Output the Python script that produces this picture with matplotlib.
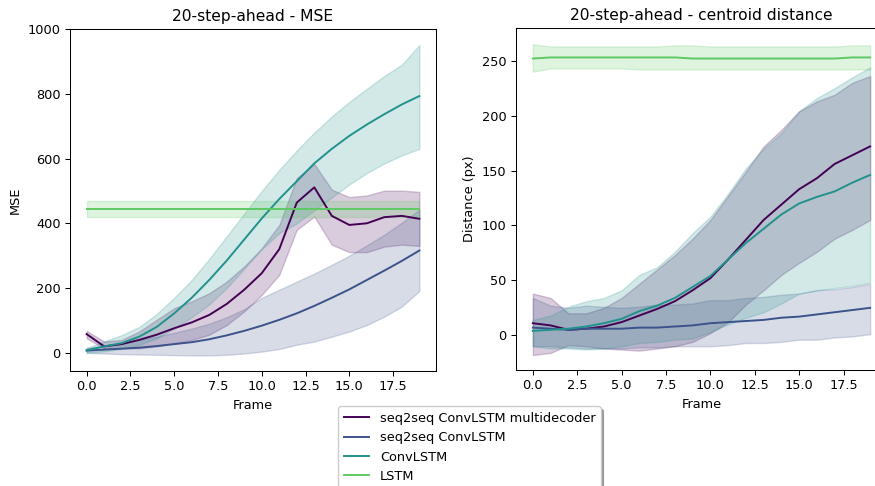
import numpy as np
import matplotlib
matplotlib.use('Agg')
import matplotlib.pyplot as plt

frames = np.arange(20)
names = ['seq2seq ConvLSTM multidecoder', 'seq2seq ConvLSTM', 'ConvLSTM', 'LSTM']
colors = ['#440154', '#3b528b', '#21918c', '#5ec962']

# MSE panel: mean, lower, upper
mse_multi = [58, 20, 27, 40, 56, 76, 94, 117, 151, 195, 246, 320, 464, 511, 423, 395, 400, 419, 423, 414]
mse_multi_lo = [45, 14, 14, 14, 20, 30, 40, 56, 86, 128, 179, 241, 380, 421, 334, 311, 311, 328, 334, 330]
mse_multi_hi = [68, 35, 40, 66, 102, 138, 159, 184, 220, 267, 323, 395, 540, 583, 504, 481, 486, 501, 501, 497]

mse_s2s = [7, 10, 13, 16, 21, 27, 33, 42, 54, 68, 84, 102, 122, 145, 170, 196, 225, 254, 284, 316]
mse_s2s_lo = [0, -2, -4, -5, -6, -7, -8, -8, -6, -2, 4, 12, 25, 35, 50, 66, 86, 112, 143, 191]
mse_s2s_hi = [15, 22, 30, 40, 50, 62, 75, 90, 110, 135, 170, 195, 220, 245, 272, 300, 332, 365, 402, 442]

mse_conv = [8, 20, 30, 50, 80, 122, 170, 225, 285, 350, 415, 475, 530, 585, 630, 670, 705, 737, 767, 793]
mse_conv_lo = [0, 5, 12, 25, 45, 75, 110, 150, 200, 260, 320, 370, 400, 440, 480, 520, 555, 585, 610, 630]
mse_conv_hi = [15, 35, 55, 80, 120, 170, 225, 290, 360, 430, 500, 565, 625, 680, 730, 775, 815, 855, 890, 950]

mse_lstm = [445] * 20
mse_lstm_lo = [420] * 20
mse_lstm_hi = [470] * 20

# centroid distance panel
cd_multi = [11, 9, 5, 6, 8, 12, 18, 24, 31, 41, 52, 69, 87, 105, 119, 133, 143, 156, 164, 172]
cd_multi_lo = [-18, -16, -9, -10, -12, -13, -14, -12, -10, -6, 2, 12, 28, 41, 55, 66, 76, 88, 96, 105]
cd_multi_hi = [38, 34, 20, 20, 25, 34, 47, 60, 73, 88, 105, 127, 149, 172, 187, 204, 213, 219, 230, 236]

cd_s2s = [7, 6, 5, 6, 6, 6, 7, 7, 8, 9, 11, 12, 13, 14, 16, 17, 19, 21, 23, 25]
cd_s2s_lo = [-10, -10, -11, -12, -12, -12, -11, -11, -10, -10, -10, -9, -7, -7, -6, -4, -4, -2, -1, 1]
cd_s2s_hi = [34, 27, 25, 27, 26, 25, 26, 28, 28, 29, 32, 32, 34, 35, 37, 38, 41, 42, 44, 47]

cd_conv = [4, 5, 6, 8, 11, 15, 22, 27, 34, 44, 54, 69, 84, 97, 110, 120, 126, 131, 139, 146]
cd_conv_lo = [-10, -12, -12, -13, -12, -10, -7, -6, -4, -3, 3, 10, 16, 21, 29, 38, 41, 43, 45, 48]
cd_conv_hi = [14, 18, 26, 31, 34, 41, 55, 62, 76, 93, 108, 129, 152, 170, 184, 204, 216, 225, 235, 244]

cd_lstm = [252, 253, 253, 253, 253, 253, 253, 253, 253, 252, 252, 252, 252, 252, 252, 252, 252, 252, 253, 253]
cd_lstm_lo = [240, 243, 243, 243, 243, 243, 242, 242, 242, 242, 242, 242, 242, 242, 242, 242, 242, 242, 242, 242]
cd_lstm_hi = [265, 263, 263, 263, 263, 263, 263, 263, 264, 264, 263, 263, 263, 263, 263, 263, 263, 263, 264, 264]

mse = [(mse_multi, mse_multi_lo, mse_multi_hi), (mse_s2s, mse_s2s_lo, mse_s2s_hi),
       (mse_conv, mse_conv_lo, mse_conv_hi), (mse_lstm, mse_lstm_lo, mse_lstm_hi)]
cd = [(cd_multi, cd_multi_lo, cd_multi_hi), (cd_s2s, cd_s2s_lo, cd_s2s_hi),
      (cd_conv, cd_conv_lo, cd_conv_hi), (cd_lstm, cd_lstm_lo, cd_lstm_hi)]

# reference looks like a slightly downscaled default render
s = 0.93
plt.rcParams['font.size'] = 10 * s
plt.rcParams['lines.linewidth'] = 1.5 * s
plt.rcParams['axes.linewidth'] = 0.8 * s
plt.rcParams['xtick.major.size'] = 3.5 * s
plt.rcParams['ytick.major.size'] = 3.5 * s
plt.rcParams['xtick.major.width'] = 0.8 * s
plt.rcParams['ytick.major.width'] = 0.8 * s

fig = plt.figure(figsize=(8.75, 4.86), dpi=100)
ax1 = fig.add_axes([70 / 875, 1 - 371 / 486, 366 / 875, 342 / 486])
ax2 = fig.add_axes([516 / 875, 1 - 370 / 486, 371 / 875, 342 / 486])

lines = []
for (m, lo, hi), c, n in zip(mse, colors, names):
    ln, = ax1.plot(frames, m, color=c, label=n)
    ax1.fill_between(frames, lo, hi, color=c, alpha=0.2)
    lines.append(ln)

for (m, lo, hi), c in zip(cd, colors):
    ax2.plot(frames, m, color=c)
    ax2.fill_between(frames, lo, hi, color=c, alpha=0.2)

ax1.set_title('20-step-ahead - MSE')
ax1.set_xlabel('Frame')
ax1.set_ylabel('MSE')
ax1.set_xlim(-0.95, 19.95)
ax1.set_ylim(-56, 1000)

ax2.set_title('20-step-ahead - centroid distance')
ax2.set_xlabel('Frame')
ax2.set_ylabel('Distance (px)')
ax2.set_xlim(-0.95, 19.95)
ax2.set_ylim(-31.6, 279.8)

for ax in (ax1, ax2):
    ax.set_xticks(np.arange(0, 18, 2.5))

fig.legend(handles=lines, loc='upper left', bbox_to_anchor=(332 / 875, 1 - 400 / 486), shadow=True)

fig.savefig('out.png', dpi=100)
